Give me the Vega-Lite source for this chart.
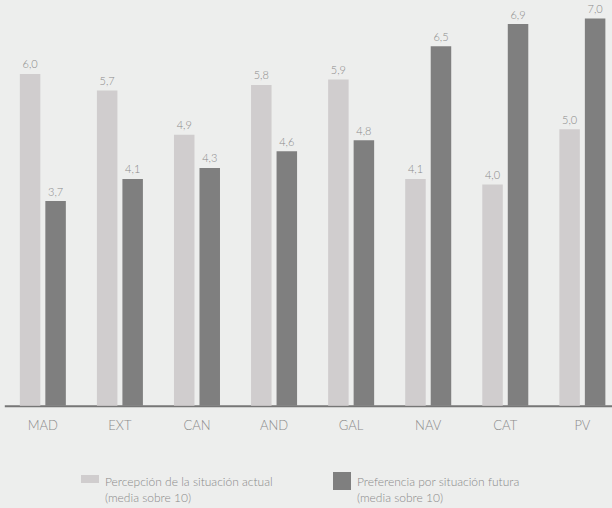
{
  "$schema": "https://vega.github.io/schema/vega-lite/v6.json",
  "width": 612,
  "height": 403.7,
  "autosize": {"type": "none"},
  "padding": {"left": 0, "top": 2, "right": 0, "bottom": 102.3},
  "background": "#edeeed",
  "config": {
    "view": {"stroke": null},
    "font": "Lato",
    "locale": {"number": {"decimal": ",", "thousands": ".", "grouping": [3], "currency": ["", " €"]}}
  },
  "data": {
    "values": [
      {"region": "MAD", "serie": "Percepción de la situación actual|(media sobre 10)", "valor": 6.0},
      {"region": "MAD", "serie": "Preferencia por situación futura|(media sobre 10)", "valor": 3.7},
      {"region": "EXT", "serie": "Percepción de la situación actual|(media sobre 10)", "valor": 5.7},
      {"region": "EXT", "serie": "Preferencia por situación futura|(media sobre 10)", "valor": 4.1},
      {"region": "CAN", "serie": "Percepción de la situación actual|(media sobre 10)", "valor": 4.9},
      {"region": "CAN", "serie": "Preferencia por situación futura|(media sobre 10)", "valor": 4.3},
      {"region": "AND", "serie": "Percepción de la situación actual|(media sobre 10)", "valor": 5.8},
      {"region": "AND", "serie": "Preferencia por situación futura|(media sobre 10)", "valor": 4.6},
      {"region": "GAL", "serie": "Percepción de la situación actual|(media sobre 10)", "valor": 5.9},
      {"region": "GAL", "serie": "Preferencia por situación futura|(media sobre 10)", "valor": 4.8},
      {"region": "NAV", "serie": "Percepción de la situación actual|(media sobre 10)", "valor": 4.1},
      {"region": "NAV", "serie": "Preferencia por situación futura|(media sobre 10)", "valor": 6.5},
      {"region": "CAT", "serie": "Percepción de la situación actual|(media sobre 10)", "valor": 4.0},
      {"region": "CAT", "serie": "Preferencia por situación futura|(media sobre 10)", "valor": 6.9},
      {"region": "PV", "serie": "Percepción de la situación actual|(media sobre 10)", "valor": 5.0},
      {"region": "PV", "serie": "Preferencia por situación futura|(media sobre 10)", "valor": 7.0}
    ]
  },
  "encoding": {
    "x": {
      "field": "region",
      "type": "nominal",
      "sort": null,
      "scale": {"range": [4.3, 620.9], "paddingInner": 0, "paddingOuter": 0},
      "axis": {
        "title": null,
        "labelAngle": 0,
        "ticks": false,
        "domain": true,
        "domainColor": "#767676",
        "domainWidth": 2,
        "labelFontSize": 13,
        "labelFontWeight": 300,
        "labelColor": "#8a8a8a",
        "labelPadding": 14
      }
    },
    "xOffset": {
      "field": "serie",
      "type": "nominal",
      "sort": null,
      "scale": {"paddingInner": 0.196, "paddingOuter": 0.609}
    },
    "y": {
      "field": "valor",
      "type": "quantitative",
      "scale": {"domain": [0, 7.3], "nice": false, "zero": true},
      "axis": null
    }
  },
  "layer": [
    {
      "mark": {"type": "bar"},
      "encoding": {
        "color": {
          "field": "serie",
          "type": "nominal",
          "sort": null,
          "scale": {"range": ["#d0cdce", "#7f7f7f"]},
          "legend": {
            "orient": "none",
            "legendX": 81,
            "legendY": 470,
            "direction": "horizontal",
            "columns": 2,
            "title": null,
            "padding": 0,
            "symbolType": "square",
            "symbolSize": 324,
            "symbolStrokeWidth": 0,
            "labelFont": "Lato",
            "labelFontSize": 12,
            "labelFontWeight": 300,
            "labelColor": "#8a8a8a",
            "labelOffset": 6,
            "labelBaseline": "top",
            "columnPadding": 60,
            "labelLimit": 400,
            "labelExpr": "split(datum.label, '|')",
            "encode": {
              "symbols": {
                "update": {
                  "shape": {"signal": "indexof(datum.value, 'Percep') === 0 ? 'M-1,-0.67H1V0.22H-1Z' : 'square'"}
                }
              },
              "labels": {
                "update": {
                  "dy": {"value": -4},
                  "lineHeight": {"value": 16}
                }
              }
            }
          }
        }
      }
    },
    {
      "mark": {"type": "text", "dy": -5.5, "baseline": "alphabetic", "fontSize": 11, "fontWeight": 300, "color": "#8a8a8a"},
      "encoding": {
        "text": {"field": "valor", "type": "quantitative", "format": ".1f"}
      }
    }
  ]
}
